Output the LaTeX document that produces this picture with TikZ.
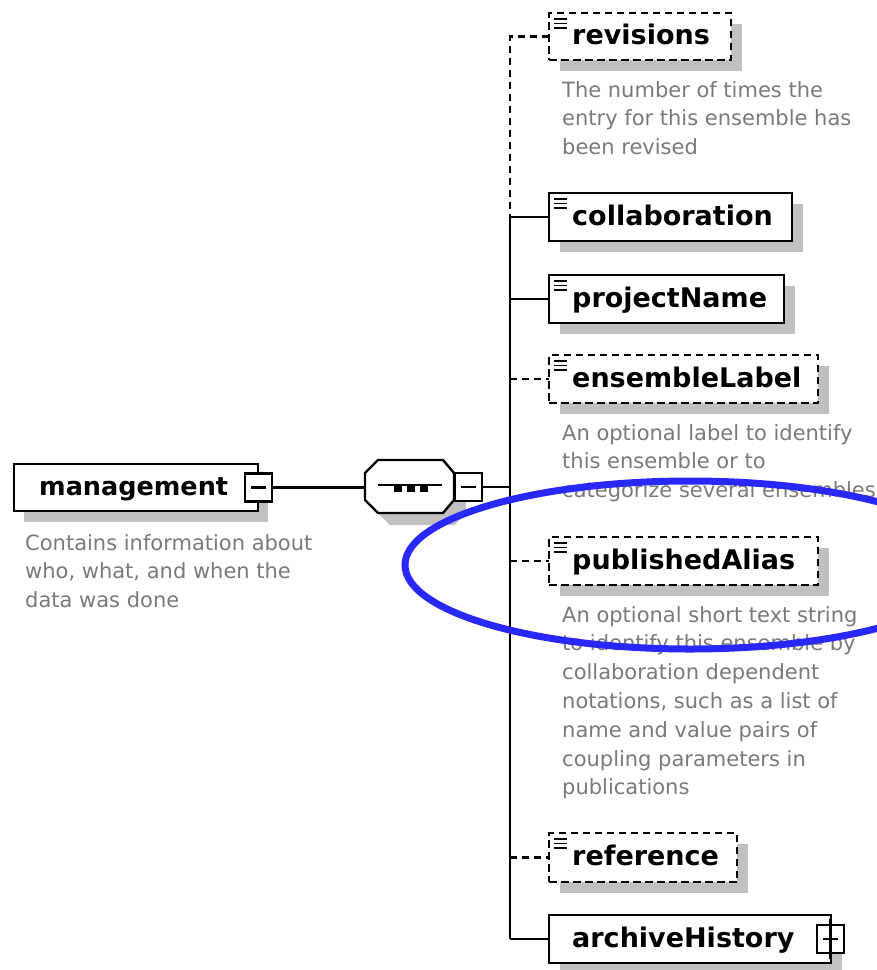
\documentclass[tikz,border=0pt]{standalone}
\usepackage{fontspec}
\setmainfont{DejaVu Sans}
\definecolor{shadowgray}{HTML}{C0C0C0}
\definecolor{descgray}{HTML}{7A7A7A}
\definecolor{markblue}{RGB}{40,40,250}

\newcommand\mkelem[7]{% name, x1, y1, x2, y2, style, label
  \node[shadowbox, minimum width={#4-#2}, minimum height={#5-#3}] (#1-sh) at ({(#2+#4)/2+11},{(#3+#5)/2+11}) {};
  \node[#6, minimum width={#4-#2}, minimum height={#5-#3}] (#1) at ({(#2+#4)/2},{(#3+#5)/2}) {};
  \node[lbl] (#1-lbl) at (572,{(#3+#5)/2+8}) {#7};
}
\newcommand\mkicon[1]{%
  \draw[iconline] ([shift={(5,6)}]#1.north west) -- ++(13,0);
  \draw[iconline] ([shift={(5,10.5)}]#1.north west) -- ++(13,0);
  \draw[iconline] ([shift={(5,15)}]#1.north west) -- ++(13,0);
}
\newcommand\mkdesc[4]{% name, x, first baseline, lines
  \foreach \t [count=\i] in {#4} {
    \node[dsc] (#1-\i) at (#2,{#3+28.8*(\i-1)}) {\t};
  }
}
\newcommand\octpath[1]{% node name
  ([shift={(0,13)}]#1.north west) -- ([shift={(13,0)}]#1.north west) --
  ([shift={(-11,0)}]#1.north east) -- ([shift={(0,13)}]#1.north east) --
  ([shift={(0,-13)}]#1.south east) -- ([shift={(-11,0)}]#1.south east) --
  ([shift={(13,0)}]#1.south west) -- ([shift={(0,-13)}]#1.south west) -- cycle
}

\begin{document}
\begin{tikzpicture}[x=1pt,y=-1pt,
  conn/.style={line width=2.4pt, black},
  optconn/.style={line width=2.4pt, black, dash pattern=on 7pt off 5pt},
  elembox/.style={draw, line width=2.4pt, fill=white, rectangle, inner sep=0pt, outer sep=0pt},
  optbox/.style={elembox, dash pattern=on 7.5pt off 4.5pt},
  shadowbox/.style={fill=shadowgray, draw=none, rectangle, inner sep=0pt, outer sep=0pt},
  pmbox/.style={draw, line width=2.4pt, fill=white, rectangle, inner sep=0pt, outer sep=0pt, minimum width=27pt, minimum height=28pt},
  iconline/.style={line width=1.6pt, black},
  lbl/.style={anchor=base west, inner sep=0pt, font=\fontsize{27}{30}\selectfont\bfseries},
  dsc/.style={anchor=base west, inner sep=0pt, text=descgray, font=\fontsize{21}{29}\selectfont},
  seqframe/.style={rectangle, draw=none, inner sep=0pt, outer sep=0pt, minimum width=89pt, minimum height=53pt},
]
\useasboundingbox (0,0) rectangle (877,970);
\fill[white] (0,0) rectangle (877,970);
\clip (0,0) rectangle (877,970);

% management
\node[shadowbox, minimum width=244pt, minimum height=47pt] (mgmt-sh) at (146,498) {};
\node[elembox, minimum width=244pt, minimum height=47pt] (mgmt) at (136,487.5) {};
\node[lbl, font=\fontsize{25.5}{28}\selectfont\bfseries] (mgmt-lbl) at (39,495) {management};
\node[pmbox] (mgmt-pm) at (258.5,487.5) {};
\draw[conn] ([xshift=6pt]mgmt-pm.west) -- ([xshift=-6pt]mgmt-pm.east);
\mkdesc{mgmtd}{25}{550}{Contains information about,{who, what, and when the},data was done}

% sequence compositor
\node[seqframe] (seq-sh) at (421.5,498.5) {};
\node[seqframe] (seq) at (409.5,486.5) {};
\fill[shadowgray] \octpath{seq-sh};
\filldraw[fill=white, draw=black, line width=2.4pt] \octpath{seq};
\draw[conn] ([xshift=13pt,yshift=1.5pt]seq.west) -- ([xshift=-12pt,yshift=1.5pt]seq.east);
\node[fill=black, minimum size=8pt, inner sep=0pt] (dot1) at (398,488) {};
\node[fill=black, minimum size=8pt, inner sep=0pt] (dot2) at (411,488) {};
\node[fill=black, minimum size=8pt, inner sep=0pt] (dot3) at (424,488) {};
\node[pmbox] (seq-pm) at (468.5,487) {};
\draw[conn] ([xshift=6pt]seq-pm.west) -- ([xshift=-6pt]seq-pm.east);
\draw[conn] (mgmt-pm.east) -- (mgmt-pm.east -| seq.west);

% bus
\coordinate (busmid) at (510,487);
\coordinate (bustop) at (510,217);
\coordinate (busbot) at (510,939);
\draw[conn] (seq-pm.east) -- (busmid);
\draw[conn] (bustop) -- (busbot);

% children
\mkelem{revisions}{549}{13}{731}{60}{optbox}{revisions}
\mkelem{collaboration}{549}{193}{792}{241}{elembox}{collaboration}
\mkelem{projectName}{549}{275}{784}{323}{elembox}{projectName}
\mkelem{ensembleLabel}{549}{355}{818}{403}{optbox}{ensembleLabel}
\mkelem{publishedAlias}{549}{537}{818}{585}{optbox}{publishedAlias}
\mkelem{reference}{549}{833}{737}{882}{optbox}{reference}
\mkelem{archiveHistory}{549}{915}{831}{963}{elembox}{archiveHistory}
\node[pmbox] (arch-pm) at (830.5,939) {};
\draw[conn] ([xshift=6pt]arch-pm.west) -- ([xshift=-6pt]arch-pm.east);
\draw[conn] ([yshift=6pt]arch-pm.north) -- ([yshift=-6pt]arch-pm.south);

\mkicon{revisions}
\mkicon{collaboration}
\mkicon{projectName}
\mkicon{ensembleLabel}
\mkicon{publishedAlias}
\mkicon{reference}

% connectors
\draw[optconn] (revisions.west) -| (bustop);
\draw[conn] (bustop) -- (collaboration.west);
\draw[conn] (projectName.west -| bustop) -- (projectName.west);
\draw[optconn] (ensembleLabel.west -| bustop) -- (ensembleLabel.west);
\draw[optconn] (publishedAlias.west -| bustop) -- (publishedAlias.west);
\draw[optconn] (reference.west -| bustop) -- (reference.west);
\draw[conn] (busbot) -- (archiveHistory.west);

% descriptions
\mkdesc{revd}{562}{97}{The number of times the,entry for this ensemble has,been revised}
\mkdesc{ensd}{562}{440}{An optional label to identify,this ensemble or to,categorize several ensembles}
\mkdesc{pubd}{562}{622}{An optional short text string,to identify this ensemble by,collaboration dependent,{notations, such as a list of},name and value pairs of,coupling parameters in,publications}

% highlight ellipse
\draw[markblue, line width=7pt] (690,565) ellipse [x radius=285, y radius=84];
\end{tikzpicture}
\end{document}
